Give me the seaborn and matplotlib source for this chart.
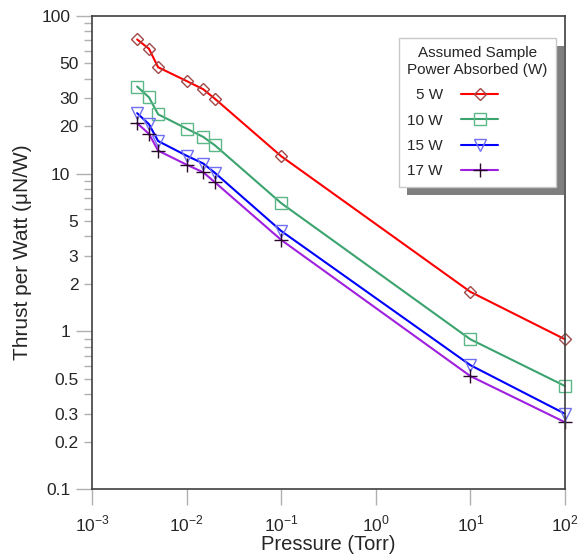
import numpy as np
import pandas as pd
import matplotlib
matplotlib.use("Agg")
import matplotlib.pyplot as plt
import seaborn as sns
from matplotlib.patches import Rectangle
from matplotlib.ticker import FixedLocator, FixedFormatter

sns.set_style("ticks")
plt.rcParams['font.family'] = ['Liberation Sans', 'DejaVu Sans']
plt.rcParams['mathtext.fontset'] = 'custom'
plt.rcParams['mathtext.rm'] = 'Liberation Sans'
plt.rcParams['axes.unicode_minus'] = False

pressure = [0.003, 0.004, 0.005, 0.01, 0.015, 0.02, 0.1, 10, 100]
thrust_5w = [71, 62, 47.3, 38.7, 34.3, 29.8, 12.9, 1.78, 0.89]
thrust_10w = [35.7, 30.5, 23.8, 19.3, 17.1, 15.1, 6.5, 0.89, 0.45]
thrust_15w = [24.2, 20.6, 16.1, 13.0, 11.6, 10.1, 4.33, 0.61, 0.30]
thrust_17w = [20.9, 17.9, 14.0, 11.4, 10.2, 8.8, 3.8, 0.52, 0.265]

labels = ["5 W", "10 W", "15 W", "17 W"]
series = [thrust_5w, thrust_10w, thrust_15w, thrust_17w]

# style per series: line colour, marker, marker edge colour, size
styles = [
    ("#ff0000", "D", "#a04848", 6.5),
    ("#3ba36e", "s", "#5cb888", 8),
    ("#0000ff", "v", "#7070f0", 8),
    ("#a020e0", "+", "#2a0a2a", 10),
]

fig = plt.figure(figsize=(5.81, 5.55), dpi=100)
ax = fig.add_axes([92 / 581, 1 - 489 / 555, (565 - 92) / 581, (489 - 16) / 555])

for lab, vals, (lc, mk, mec, ms) in zip(labels, series, styles):
    df = pd.DataFrame({"Pressure": pressure, "Thrust": vals})
    sns.lineplot(data=df, x="Pressure", y="Thrust", ax=ax, color=lc, lw=1.5,
                 marker=mk, markersize=ms, markerfacecolor="none",
                 markeredgecolor=mec, markeredgewidth=1.0, label=lab,
                 estimator=None, sort=False, clip_on=False)

ax.set_xscale("log")
ax.set_yscale("log")
ax.set_xlim(1e-3, 1e2)
ax.set_ylim(0.1, 100)

xt = [1e-3, 1e-2, 1e-1, 1e0, 1e1, 1e2]
ax.xaxis.set_major_locator(FixedLocator(xt))
ax.xaxis.set_major_formatter(FixedFormatter(["$10^{-3}$", "$10^{-2}$", "$10^{-1}$",
                                             "$10^{0}$", "$10^{1}$", "$10^{2}$"]))
ax.xaxis.set_minor_locator(FixedLocator([]))

y_major = [0.1, 1, 10, 100]
y_minor = [0.2, 0.3, 0.4, 0.5, 0.6, 0.7, 0.8, 0.9,
           2, 3, 4, 5, 6, 7, 8, 9,
           20, 30, 40, 50, 60, 70, 80, 90]
y_minor_lab = {0.2: "0.2", 0.3: "0.3", 0.5: "0.5", 2: "2", 3: "3", 5: "5",
               20: "20", 30: "30", 50: "50"}
ax.yaxis.set_major_locator(FixedLocator(y_major))
ax.yaxis.set_major_formatter(FixedFormatter(["0.1", "1", "10", "100"]))
ax.yaxis.set_minor_locator(FixedLocator(y_minor))
ax.yaxis.set_minor_formatter(FixedFormatter([y_minor_lab.get(v, "") for v in y_minor]))

ax.tick_params(axis="both", which="major", length=11.5, width=1, color="#b0b0b0",
               labelsize=12.5, pad=4)
ax.tick_params(axis="y", which="minor", length=5.8, width=1, color="#b0b0b0",
               labelsize=12.5, pad=4)
ax.tick_params(axis="x", which="major", pad=6)
for s in ax.spines.values():
    s.set_color("#404040")
    s.set_linewidth(1.2)

ax.set_xlabel("Pressure (Torr)", fontsize=14.5, labelpad=1)
ax.set_ylabel("Thrust per Watt (μN/W)", fontsize=15, labelpad=7)

h, l = ax.get_legend_handles_labels()
leg = ax.legend(h, l, title="Assumed Sample\nPower Absorbed (W)", markerfirst=False,
                loc="upper right", bbox_to_anchor=(556 / 581, 1 - 38 / 555),
                bbox_transform=fig.transFigure, borderaxespad=0, fontsize=11,
                title_fontsize=11, fancybox=False, framealpha=1, edgecolor="#c8c8c8",
                handlelength=2.4, labelspacing=0.75, borderpad=0.55, handletextpad=1.2)
leg._legend_box.align = "left"
leg.get_title().set_ha("center")
leg.set_zorder(6)

fig.canvas.draw()
bb = leg.get_window_extent()
shadow = Rectangle((bb.x0 + 8, bb.y0 - 8), bb.width, bb.height,
                   transform=None, facecolor="#7f7f7f", edgecolor="none", zorder=5.5)
ax.add_artist(shadow)

fig.savefig("out.png", dpi=100)
